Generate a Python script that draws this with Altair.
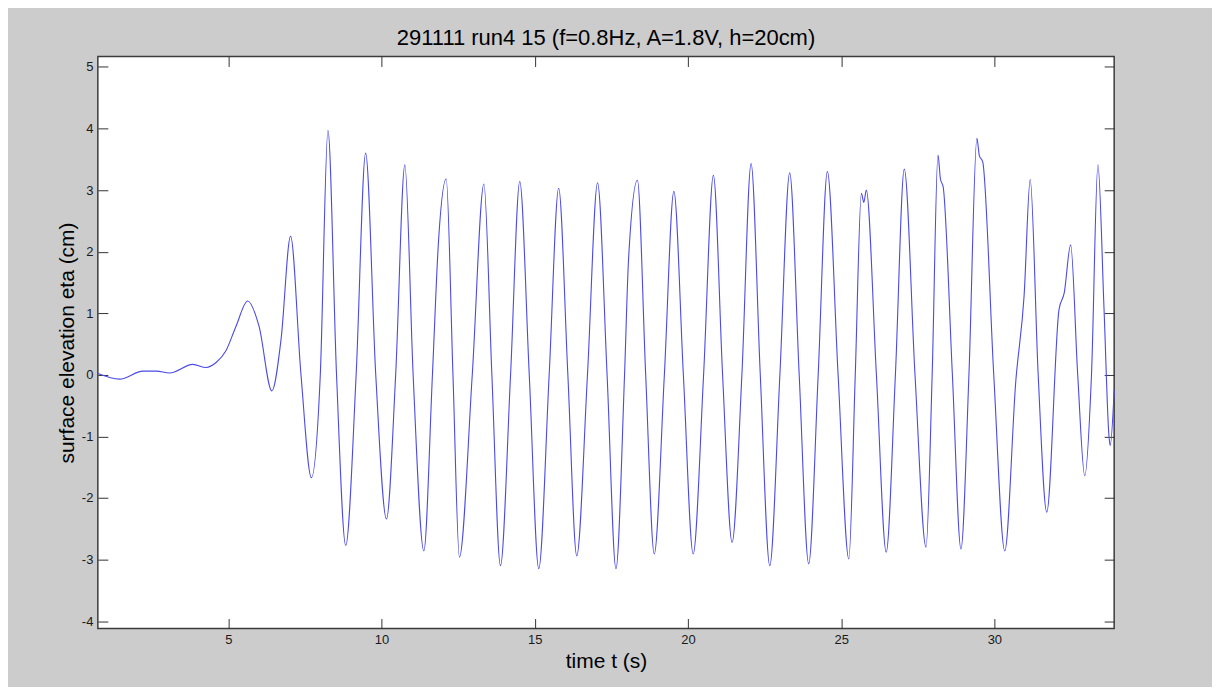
import altair as alt
import pandas as pd

# time (s) and surface elevation (cm)
t = [0.74, 1.45, 2.21, 2.65, 3.08, 3.84, 4.27, 4.60, 4.92, 5.25, 5.63, 6.00, 6.42, 6.72,
     7.03, 7.37, 7.71, 8.00, 8.25, 8.53, 8.83, 9.17, 9.48, 9.81, 10.16, 10.46, 10.76,
     11.03, 11.38, 11.66, 11.85, 12.11, 12.33, 12.54, 12.96, 13.34, 13.60, 13.88, 14.21,
     14.51, 14.82, 15.13, 15.47, 15.78, 16.08, 16.37, 16.72, 17.05, 17.36, 17.65, 17.93,
     18.06, 18.35, 18.62, 18.90, 19.23, 19.54, 19.85, 20.17, 20.51, 20.83, 21.13, 21.44,
     21.76, 22.06, 22.36, 22.67, 23.00, 23.32, 23.63, 23.94, 24.25, 24.55, 24.90, 25.25,
     25.46, 25.66, 25.74, 25.82, 26.15, 26.47, 26.77, 27.06, 27.41, 27.77, 27.97, 28.16,
     28.24, 28.33, 28.63, 28.91, 29.17, 29.43, 29.51, 29.62, 29.98, 30.34, 30.70, 30.97,
     31.17, 31.43, 31.71, 32.11, 32.28, 32.49, 32.72, 32.95, 33.17, 33.38, 33.58, 33.74,
     33.78, 33.91]
eta = [0.02, -0.07, 0.06, 0.06, 0.03, 0.17, 0.12, 0.20, 0.39, 0.79, 1.20, 0.79, -0.26, 0.58,
       2.25, 0.0, -1.67, 0.0, 3.97, 0.0, -2.77, 0.0, 3.60, 0.0, -2.34, 0.0, 3.41,
       0.0, -2.86, 0.0, 2.10, 3.18, 0.0, -2.96, 0.0, 3.10, 0.0, -3.10, 0.0,
       3.14, 0.0, -3.15, 0.0, 3.03, 0.0, -2.94, 0.0, 3.12, 0.0, -3.15, 0.0,
       1.87, 3.16, 0.0, -2.91, 0.0, 2.98, 0.0, -2.91, 0.0, 3.24, 0.0, -2.72,
       0.0, 3.43, 0.0, -3.10, 0.0, 3.28, 0.0, -3.07, 0.0, 3.30, 0.0, -2.99,
       0.0, 2.95, 2.80, 3.00, 0.0, -2.88, 0.0, 3.34, 0.0, -2.80, 0.0, 3.57,
       3.18, 3.05, 0.0, -2.83, 0.0, 3.84, 3.56, 3.46, 0.0, -2.86, -0.10, 1.28,
       3.17, 0.0, -2.23, 1.06, 1.33, 2.11, 0.0, -1.64, 0.0, 3.41, 1.06, -0.99,
       -1.15, -0.25]

x_ticks = [5, 10, 15, 20, 25, 30]
y_ticks = [-4, -3, -2, -1, 0, 1, 2, 3, 4, 5]

df = pd.DataFrame({"t": t, "eta": eta})

FONT = "Liberation Sans"
TICK = 10
x_scale = alt.Scale(domain=[0.74, 33.91], nice=False, zero=False)
y_scale = alt.Scale(domain=[-4.12, 5.17], nice=False, zero=False)

common = dict(domain=False, grid=False, tickSize=TICK, offset=-TICK, tickColor="#333333",
              tickWidth=1, labelFont=FONT, labelFontSize=13, labelColor="#1a1a1a",
              labelExpr="'' + datum.value",
              titleFont=FONT, titleFontSize=21, titleFontWeight="normal", titleColor="#000000")

line = alt.Chart(df).mark_line(color="#4a4ae8", strokeWidth=1.1, interpolate="monotone").encode(
    x=alt.X("t:Q", scale=x_scale,
            axis=alt.Axis(orient="bottom", values=x_ticks, title="time t (s)",
                          labelPadding=5, titlePadding=4, **common)),
    y=alt.Y("eta:Q", scale=y_scale,
            axis=alt.Axis(orient="left", values=y_ticks, title="surface elevation eta (cm)",
                          labelPadding=5, titlePadding=4, **common)),
)

frame = alt.Chart(df).mark_line(opacity=0).encode(
    x=alt.X("t:Q", scale=x_scale,
            axis=alt.Axis(orient="top", values=x_ticks, title=None, labels=False, **common)),
    y=alt.Y("eta:Q", scale=y_scale,
            axis=alt.Axis(orient="right", values=y_ticks, title=None, labels=False, **common)),
)

chart = alt.layer(frame, line).resolve_axis(x="independent", y="independent").properties(
    width=1018, height=573,
    title=alt.Title("291111 run4 15 (f=0.8Hz, A=1.8V, h=20cm)", font=FONT, fontSize=22,
                    fontWeight="normal", color="#000000", offset=6),
    autosize=alt.AutoSizeParams(type="none"),
    padding={"left": 90, "top": 48, "right": 98, "bottom": 58},
    background="#cccccc",
).configure_view(fill="white", stroke="#3c3c3c", strokeWidth=1.5)

chart.save("out.html", embed_options={"renderer": "svg", "actions": False})
